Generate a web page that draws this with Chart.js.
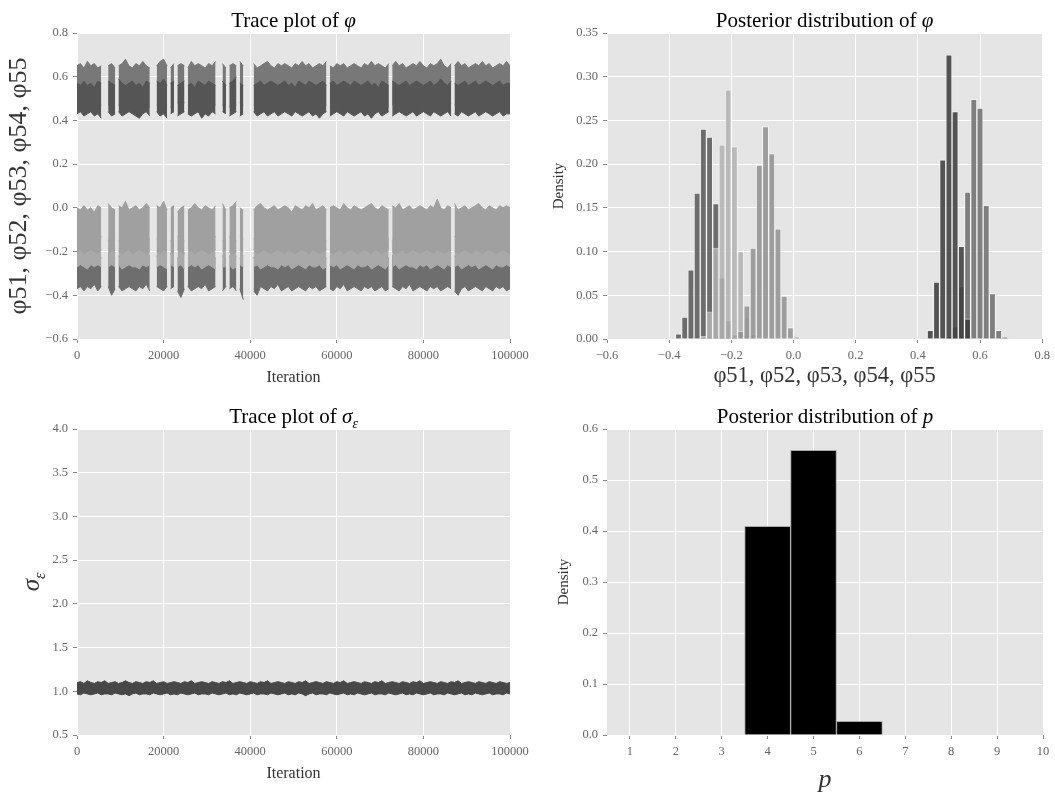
<!DOCTYPE html>
<html>
<head>
<meta charset="utf-8">
<script src="https://cdn.jsdelivr.net/npm/chart.js@4.4.0/dist/chart.umd.min.js"></script>
<style>
  body { margin: 0; background: #fff; }
  #page { position: relative; width: 1055px; height: 793px; }
  canvas { position: absolute; }
</style>
</head>
<body>
<div id="page">
  <canvas id="tl" width="545" height="390" style="left:0;top:0"></canvas>
  <canvas id="tr" width="528" height="390" style="left:527px;top:0"></canvas>
  <canvas id="bl" width="545" height="403" style="left:0;top:390px"></canvas>
  <canvas id="br" width="528" height="403" style="left:527px;top:390px"></canvas>
</div>
<script>
// trace envelopes: upper / lower edge of each chain, one value every `thin` iterations
const thin = 800;
// iterations where the chain left p = 5 (phi5x undefined there)
const gapIterations = [6100, 7000, 9200, 17300, 18200, 21200, 23100, 24900, 32200, 33000,
  34600, 37500, 38700, 39500, 40500, 58300, 72400, 87000];

const phiAHigh = [0.57,0.56,0.58,0.56,0.57,0.55,0.58,0.57,0.56,0.58,
  0.57,0.56,0.59,0.57,0.56,0.57,0.58,0.56,0.57,0.55,
  0.58,0.57,0.56,0.58,0.57,0.59,0.56,0.57,0.58,0.56,
  0.57,0.58,0.56,0.57,0.55,0.58,0.57,0.56,0.58,0.57,
  0.56,0.57,0.58,0.56,0.57,0.58,0.60,0.57,0.56,0.58,
  0.57,0.56,0.57,0.58,0.56,0.57,0.58,0.57,0.56,0.57,
  0.58,0.56,0.57,0.55,0.58,0.57,0.56,0.58,0.57,0.56,
  0.57,0.58,0.56,0.57,0.58,0.56,0.57,0.58,0.57,0.56,
  0.58,0.57,0.56,0.57,0.58,0.56,0.57,0.55,0.58,0.57,
  0.56,0.58,0.57,0.56,0.57,0.58,0.56,0.57,0.58,0.57,
  0.56,0.57,0.58,0.56,0.57,0.59,0.57,0.56,0.58,0.57,
  0.56,0.57,0.58,0.56,0.57,0.58,0.56,0.57,0.58,0.57,
  0.56,0.57,0.58,0.56,0.57,0.57];
const phiALow = [0.43,0.44,0.42,0.43,0.44,0.42,0.43,0.41,0.43,0.44,
  0.42,0.43,0.44,0.42,0.43,0.44,0.43,0.42,0.41,0.43,
  0.44,0.42,0.43,0.44,0.42,0.43,0.41,0.43,0.44,0.42,
  0.43,0.44,0.43,0.42,0.43,0.44,0.41,0.43,0.42,0.44,
  0.43,0.42,0.44,0.43,0.42,0.43,0.44,0.42,0.43,0.40,
  0.43,0.44,0.42,0.43,0.44,0.42,0.43,0.44,0.42,0.43,
  0.44,0.43,0.42,0.44,0.43,0.42,0.43,0.44,0.42,0.43,
  0.41,0.43,0.44,0.42,0.43,0.44,0.43,0.42,0.44,0.43,
  0.42,0.43,0.44,0.42,0.43,0.41,0.43,0.44,0.42,0.43,
  0.44,0.42,0.43,0.44,0.43,0.42,0.43,0.44,0.42,0.43,
  0.44,0.43,0.42,0.44,0.43,0.42,0.43,0.44,0.42,0.43,
  0.42,0.44,0.43,0.42,0.43,0.44,0.42,0.43,0.44,0.43,
  0.42,0.43,0.44,0.42,0.43,0.43];
const phiBHigh = [0.65,0.66,0.64,0.67,0.65,0.66,0.64,0.65,0.67,0.65,
  0.66,0.64,0.65,0.66,0.68,0.65,0.64,0.66,0.65,0.67,
  0.65,0.64,0.66,0.65,0.67,0.68,0.65,0.64,0.66,0.65,
  0.66,0.65,0.64,0.67,0.65,0.66,0.65,0.64,0.66,0.65,
  0.67,0.65,0.66,0.64,0.65,0.66,0.65,0.67,0.65,0.69,
  0.65,0.66,0.64,0.65,0.66,0.67,0.65,0.64,0.66,0.65,
  0.66,0.65,0.64,0.66,0.65,0.67,0.65,0.66,0.64,0.65,
  0.66,0.65,0.67,0.65,0.64,0.66,0.65,0.66,0.64,0.65,
  0.66,0.65,0.64,0.66,0.65,0.67,0.65,0.66,0.65,0.64,
  0.66,0.65,0.67,0.65,0.66,0.64,0.65,0.66,0.65,0.67,
  0.65,0.64,0.66,0.65,0.66,0.68,0.65,0.64,0.66,0.65,
  0.67,0.65,0.66,0.64,0.65,0.66,0.65,0.67,0.65,0.66,
  0.64,0.65,0.66,0.65,0.67,0.65];
const phiBLow = [0.47,0.48,0.47,0.46,0.48,0.47,0.48,0.47,0.46,0.47,
  0.48,0.47,0.47,0.48,0.46,0.47,0.48,0.47,0.47,0.48,
  0.47,0.46,0.48,0.47,0.47,0.48,0.47,0.46,0.47,0.48,
  0.47,0.48,0.47,0.46,0.47,0.48,0.47,0.47,0.48,0.46,
  0.47,0.48,0.47,0.47,0.46,0.48,0.47,0.48,0.47,0.47,
  0.46,0.47,0.48,0.47,0.47,0.48,0.46,0.47,0.48,0.47,
  0.47,0.48,0.46,0.47,0.47,0.48,0.47,0.46,0.48,0.47,
  0.47,0.48,0.47,0.46,0.47,0.48,0.47,0.47,0.48,0.46,
  0.47,0.48,0.47,0.47,0.46,0.48,0.47,0.48,0.47,0.47,
  0.46,0.47,0.48,0.47,0.47,0.48,0.46,0.47,0.48,0.47,
  0.47,0.48,0.46,0.47,0.47,0.48,0.47,0.46,0.48,0.47,
  0.47,0.48,0.47,0.46,0.47,0.48,0.47,0.47,0.48,0.46,
  0.47,0.48,0.47,0.47,0.46,0.48];
const phiCHigh = [-0.22,-0.23,-0.21,-0.22,-0.23,-0.22,-0.21,-0.23,-0.22,-0.21,
  -0.22,-0.23,-0.22,-0.21,-0.22,-0.23,-0.21,-0.22,-0.23,-0.22,
  -0.21,-0.22,-0.23,-0.22,-0.21,-0.23,-0.22,-0.21,-0.22,-0.23,
  -0.22,-0.21,-0.23,-0.22,-0.21,-0.22,-0.23,-0.22,-0.21,-0.22,
  -0.23,-0.21,-0.22,-0.23,-0.22,-0.21,-0.22,-0.23,-0.22,-0.21,
  -0.22,-0.23,-0.21,-0.22,-0.23,-0.22,-0.21,-0.22,-0.23,-0.22,
  -0.21,-0.23,-0.22,-0.21,-0.22,-0.23,-0.22,-0.21,-0.22,-0.23,
  -0.21,-0.22,-0.23,-0.22,-0.21,-0.22,-0.23,-0.21,-0.22,-0.23,
  -0.22,-0.21,-0.22,-0.23,-0.22,-0.21,-0.23,-0.22,-0.21,-0.22,
  -0.23,-0.22,-0.21,-0.22,-0.23,-0.21,-0.22,-0.23,-0.22,-0.21,
  -0.22,-0.23,-0.22,-0.21,-0.23,-0.22,-0.21,-0.22,-0.23,-0.22,
  -0.21,-0.22,-0.23,-0.22,-0.21,-0.23,-0.22,-0.21,-0.22,-0.23,
  -0.22,-0.21,-0.22,-0.23,-0.22,-0.22];
const phiCLow = [-0.37,-0.36,-0.38,-0.36,-0.37,-0.35,-0.38,-0.36,-0.37,-0.36,
  -0.40,-0.37,-0.36,-0.38,-0.37,-0.36,-0.37,-0.38,-0.36,-0.37,
  -0.35,-0.38,-0.37,-0.36,-0.37,-0.38,-0.36,-0.37,-0.36,-0.38,
  -0.41,-0.37,-0.36,-0.38,-0.37,-0.36,-0.37,-0.35,-0.38,-0.37,
  -0.36,-0.37,-0.38,-0.36,-0.37,-0.36,-0.38,-0.37,-0.42,-0.37,
  -0.36,-0.38,-0.40,-0.36,-0.37,-0.38,-0.36,-0.37,-0.35,-0.38,
  -0.37,-0.36,-0.38,-0.37,-0.36,-0.37,-0.38,-0.36,-0.37,-0.36,
  -0.38,-0.37,-0.36,-0.37,-0.38,-0.36,-0.37,-0.35,-0.38,-0.37,
  -0.36,-0.37,-0.38,-0.36,-0.37,-0.36,-0.38,-0.37,-0.36,-0.38,
  -0.37,-0.36,-0.37,-0.38,-0.36,-0.37,-0.35,-0.38,-0.37,-0.36,
  -0.37,-0.38,-0.36,-0.37,-0.36,-0.38,-0.37,-0.36,-0.37,-0.38,
  -0.40,-0.37,-0.36,-0.38,-0.37,-0.36,-0.37,-0.38,-0.36,-0.37,
  -0.38,-0.36,-0.37,-0.36,-0.38,-0.37];
const phiDHigh = [-0.14,-0.13,-0.15,-0.14,-0.13,-0.14,-0.15,-0.13,-0.14,-0.15,
  -0.13,-0.14,-0.15,-0.14,-0.13,-0.14,-0.15,-0.13,-0.14,-0.13,
  -0.15,-0.14,-0.13,-0.14,-0.15,-0.13,-0.14,-0.15,-0.14,-0.13,
  -0.14,-0.15,-0.13,-0.14,-0.13,-0.15,-0.14,-0.13,-0.14,-0.15,
  -0.13,-0.14,-0.15,-0.14,-0.13,-0.14,-0.15,-0.13,-0.14,-0.13,
  -0.15,-0.14,-0.13,-0.14,-0.15,-0.13,-0.14,-0.15,-0.14,-0.13,
  -0.14,-0.15,-0.13,-0.14,-0.13,-0.15,-0.14,-0.13,-0.14,-0.15,
  -0.13,-0.14,-0.15,-0.14,-0.13,-0.14,-0.15,-0.13,-0.14,-0.13,
  -0.15,-0.14,-0.13,-0.14,-0.15,-0.13,-0.14,-0.15,-0.14,-0.13,
  -0.14,-0.15,-0.13,-0.14,-0.13,-0.15,-0.14,-0.13,-0.14,-0.15,
  -0.13,-0.14,-0.15,-0.14,-0.13,-0.14,-0.15,-0.13,-0.14,-0.13,
  -0.15,-0.14,-0.13,-0.14,-0.15,-0.13,-0.14,-0.15,-0.14,-0.13,
  -0.14,-0.15,-0.13,-0.14,-0.13,-0.14];
const phiDLow = [-0.27,-0.26,-0.27,-0.28,-0.26,-0.27,-0.26,-0.27,-0.28,-0.27,
  -0.26,-0.27,-0.26,-0.28,-0.27,-0.26,-0.27,-0.27,-0.28,-0.26,
  -0.27,-0.26,-0.28,-0.27,-0.26,-0.27,-0.28,-0.26,-0.27,-0.27,
  -0.26,-0.28,-0.27,-0.26,-0.27,-0.26,-0.28,-0.27,-0.26,-0.27,
  -0.28,-0.26,-0.27,-0.27,-0.26,-0.28,-0.27,-0.26,-0.27,-0.28,
  -0.26,-0.27,-0.26,-0.28,-0.27,-0.26,-0.27,-0.27,-0.28,-0.26,
  -0.27,-0.26,-0.28,-0.27,-0.26,-0.27,-0.28,-0.26,-0.27,-0.27,
  -0.26,-0.28,-0.27,-0.26,-0.27,-0.26,-0.28,-0.27,-0.26,-0.27,
  -0.28,-0.26,-0.27,-0.27,-0.26,-0.28,-0.27,-0.26,-0.27,-0.28,
  -0.26,-0.27,-0.26,-0.28,-0.27,-0.26,-0.27,-0.27,-0.28,-0.26,
  -0.27,-0.26,-0.28,-0.27,-0.26,-0.27,-0.28,-0.26,-0.27,-0.27,
  -0.26,-0.28,-0.27,-0.26,-0.27,-0.26,-0.28,-0.27,-0.26,-0.27,
  -0.28,-0.26,-0.27,-0.27,-0.26,-0.27];
const phiEHigh = [0.00,-0.01,0.01,-0.01,0.00,-0.02,0.01,0.00,-0.01,0.02,
  0.00,-0.01,0.01,0.00,0.03,-0.01,0.00,0.01,-0.01,0.00,
  0.02,0.00,-0.01,0.01,0.00,0.03,-0.01,0.00,0.01,-0.02,
  0.00,0.01,-0.01,0.00,0.02,0.00,-0.01,0.01,0.00,-0.01,
  0.01,0.00,0.02,-0.01,0.00,0.01,0.03,0.00,-0.01,0.01,
  0.00,-0.01,0.01,0.02,0.00,-0.01,0.00,0.01,-0.01,0.00,
  0.01,0.00,-0.02,0.01,0.00,-0.01,0.01,0.00,0.02,-0.01,
  0.00,0.01,-0.01,0.00,0.01,0.00,-0.01,0.02,0.00,-0.01,
  0.01,0.00,-0.01,0.00,0.01,0.02,0.00,-0.01,0.01,0.00,
  -0.01,0.01,0.00,0.02,-0.01,0.00,0.01,-0.01,0.00,0.01,
  0.00,-0.01,0.01,0.00,0.04,0.00,-0.01,0.01,0.00,0.02,
  -0.01,0.00,0.01,-0.01,0.00,0.01,0.02,0.00,-0.01,0.01,
  0.00,-0.01,0.01,0.00,0.01,0.00];
const phiELow = [-0.20,-0.19,-0.21,-0.20,-0.19,-0.20,-0.21,-0.19,-0.20,-0.21,
  -0.20,-0.19,-0.20,-0.21,-0.20,-0.19,-0.21,-0.20,-0.19,-0.20,
  -0.21,-0.20,-0.19,-0.20,-0.21,-0.19,-0.20,-0.21,-0.20,-0.19,
  -0.20,-0.21,-0.19,-0.20,-0.21,-0.20,-0.19,-0.20,-0.21,-0.20,
  -0.19,-0.21,-0.20,-0.19,-0.20,-0.21,-0.20,-0.19,-0.20,-0.21,
  -0.20,-0.19,-0.21,-0.20,-0.19,-0.20,-0.21,-0.20,-0.19,-0.20,
  -0.21,-0.19,-0.20,-0.21,-0.20,-0.19,-0.20,-0.21,-0.19,-0.20,
  -0.21,-0.20,-0.19,-0.20,-0.21,-0.20,-0.19,-0.21,-0.20,-0.19,
  -0.20,-0.21,-0.20,-0.19,-0.20,-0.21,-0.19,-0.20,-0.21,-0.20,
  -0.19,-0.20,-0.21,-0.20,-0.19,-0.21,-0.20,-0.19,-0.20,-0.21,
  -0.20,-0.19,-0.20,-0.21,-0.19,-0.20,-0.21,-0.20,-0.19,-0.20,
  -0.21,-0.20,-0.19,-0.20,-0.21,-0.19,-0.20,-0.21,-0.20,-0.19,
  -0.20,-0.21,-0.20,-0.19,-0.20,-0.21];
const sigmaHigh = [1.10,1.11,1.09,1.12,1.10,1.09,1.11,1.10,1.12,1.09,
  1.10,1.11,1.09,1.10,1.12,1.10,1.09,1.11,1.10,1.09,
  1.11,1.10,1.12,1.09,1.10,1.11,1.09,1.10,1.11,1.10,
  1.09,1.11,1.10,1.12,1.09,1.10,1.11,1.10,1.09,1.11,
  1.10,1.09,1.11,1.10,1.12,1.09,1.10,1.11,1.10,1.09,
  1.11,1.10,1.09,1.11,1.10,1.12,1.09,1.10,1.11,1.10,
  1.09,1.11,1.10,1.09,1.11,1.10,1.12,1.09,1.10,1.11,
  1.10,1.09,1.11,1.10,1.09,1.11,1.10,1.12,1.09,1.10,
  1.11,1.10,1.09,1.11,1.10,1.09,1.11,1.10,1.12,1.09,
  1.10,1.11,1.10,1.09,1.11,1.10,1.09,1.11,1.10,1.12,
  1.09,1.10,1.11,1.10,1.09,1.11,1.10,1.09,1.11,1.10,
  1.12,1.09,1.10,1.11,1.10,1.09,1.11,1.10,1.09,1.11,
  1.10,1.09,1.11,1.10,1.09,1.10];
const sigmaLow = [0.97,0.96,0.98,0.97,0.96,0.97,0.98,0.96,0.97,0.97,
  0.96,0.98,0.97,0.96,0.97,0.95,0.97,0.98,0.96,0.97,
  0.97,0.96,0.98,0.97,0.96,0.97,0.98,0.96,0.97,0.96,
  0.98,0.97,0.96,0.97,0.98,0.96,0.97,0.97,0.96,0.98,
  0.97,0.96,0.97,0.98,0.96,0.97,0.96,0.98,0.97,0.96,
  0.97,0.98,0.96,0.97,0.97,0.96,0.98,0.97,0.96,0.97,
  0.98,0.96,0.97,0.96,0.98,0.97,0.95,0.97,0.98,0.96,
  0.97,0.97,0.96,0.98,0.97,0.96,0.97,0.98,0.96,0.97,
  0.96,0.98,0.97,0.96,0.97,0.98,0.96,0.97,0.97,0.96,
  0.98,0.97,0.96,0.97,0.98,0.96,0.97,0.96,0.98,0.97,
  0.96,0.97,0.98,0.96,0.97,0.97,0.96,0.98,0.97,0.96,
  0.97,0.98,0.96,0.97,0.96,0.98,0.97,0.96,0.97,0.98,
  0.96,0.97,0.97,0.96,0.98,0.97];

// histogram bin centres and heights
const binsLow = [-0.37,-0.35,-0.33,-0.31,-0.29,-0.27,-0.25,-0.23,-0.21,-0.19,
  -0.17,-0.15,-0.13,-0.11,-0.09,-0.07,-0.05,-0.03,-0.01,0.01];
const binsHigh = [0.44,0.46,0.48,0.50,0.52,0.54,0.56,0.58,0.60,0.62,0.64,0.66,0.68];
const histC = [0.006,0.025,0.079,0.167,0.240,0.231,0.155,0.070,0.021,0.005,0,0,0,0,0,0,0,0,0,0];
const histD = [0,0,0,0,0.003,0.031,0.104,0.222,0.285,0.220,0.100,0.025,0.005,0,0,0,0,0,0,0];
const histE = [0,0,0,0,0,0,0,0,0,0.001,0.009,0.038,0.104,0.199,0.243,0.212,0.126,0.049,0.013,0.002];
const histA = [0.010,0.065,0.205,0.325,0.260,0.106,0.023,0,0,0,0,0,0];
const histB = [0,0,0,0.003,0.014,0.060,0.168,0.274,0.264,0.153,0.052,0.010,0.002];

const pValues = [1,2,3,4,5,6,7,8,9,10];
const pDensity = [0,0,0,0.409,0.558,0.027,0,0,0,0];

Chart.defaults.font.family = "'Liberation Serif', serif";
Chart.defaults.animation = false;

function tracePoints(values, gaps) {
  const pts = values.map((v, i) => ({x: i * thin, y: v}));
  if (gaps) gapIterations.forEach(g => pts.push({x: g, y: null}));
  pts.sort((a, b) => a.x - b.x);
  return pts;
}
// filled band between the upper and lower edge of one chain
function bandSets(high, low, color, gaps) {
  const line = {borderColor: color, backgroundColor: color, borderWidth: 1,
    pointRadius: 0, spanGaps: false, tension: 0};
  return [
    Object.assign({data: tracePoints(high, gaps), fill: '+1'}, line),
    Object.assign({data: tracePoints(low, gaps), fill: false}, line)
  ];
}
function histSet(bins, heights, color) {
  return {
    data: bins.map((x, i) => ({x: x, y: heights[i]})),
    backgroundColor: color, borderColor: 'rgba(255,255,255,0.55)', borderWidth: 1,
    grouped: false, barPercentage: 1, categoryPercentage: 1
  };
}

const dec = n => v => (Math.abs(v) < 1e-9 ? 0 : v).toFixed(n).replace('-', '\u2212');
const intFmt = v => String(Math.round(v));

function axis(min, max, step, fmt, size, extra) {
  return Object.assign({
    type: 'linear', min: min, max: max, offset: false,
    border: {display: false},
    grid: {color: '#ffffff', lineWidth: 1, tickColor: '#888', tickLength: 4, offset: false},
    ticks: {stepSize: step, color: '#666', font: {size: 12.5}, padding: 5,
      autoSkip: false, maxRotation: 0, callback: fmt},
    afterFit: s => { if (s.isHorizontal()) s.height = size; else s.width = size; }
  }, extra);
}

const panelBg = {
  id: 'panelBg',
  beforeDraw(chart) {
    const a = chart.chartArea, ctx = chart.ctx;
    ctx.save();
    ctx.fillStyle = '#e5e5e5';
    ctx.fillRect(a.left, a.top, a.right - a.left, a.bottom - a.top);
    ctx.restore();
  }
};

// text with italic / subscript pieces
function drawRich(ctx, parts, size, cx, cy, rot, color) {
  const fontOf = p => (p.it ? 'italic ' : '') + (p.sub ? size * 0.65 : size) + "px 'Liberation Serif', serif";
  ctx.save();
  ctx.translate(cx, cy);
  ctx.rotate(rot);
  ctx.fillStyle = color;
  ctx.textBaseline = 'alphabetic';
  let total = 0;
  parts.forEach(p => { ctx.font = fontOf(p); total += ctx.measureText(p.t).width; });
  let x = -total / 2;
  parts.forEach(p => {
    ctx.font = fontOf(p);
    ctx.fillText(p.t, x, size * 0.33 + (p.sub ? size * 0.22 : 0));
    x += ctx.measureText(p.t).width;
  });
  ctx.restore();
}
function rich(title, yLabel, yLabelX) {
  return {
    id: 'rich',
    afterDraw(chart) {
      const a = chart.chartArea;
      drawRich(chart.ctx, title, 21, (a.left + a.right) / 2, a.top - 13, 0, '#000');
      if (yLabel) drawRich(chart.ctx, yLabel, 25, yLabelX, (a.top + a.bottom) / 2, -Math.PI / 2, '#333');
    }
  };
}

function baseOptions(padding, scales) {
  return {
    responsive: false, events: [],
    layout: {padding: padding},
    plugins: {legend: {display: false}, tooltip: {enabled: false}},
    scales: scales
  };
}

const phiLabel = 'φ51, φ52, φ53, φ54, φ55';

// trace plot of phi (first dataset ends up on top)
new Chart(document.getElementById('tl'), {
  type: 'line',
  data: {datasets: [].concat(
    bandSets(phiAHigh, phiALow, '#555555', true),
    bandSets(phiBHigh, phiBLow, '#787878', true),
    bandSets(phiEHigh, phiELow, '#a0a0a0', true),
    bandSets(phiDHigh, phiDLow, '#a9a9a9', true),
    bandSets(phiCHigh, phiCLow, '#6e6e6e', true)
  )},
  options: baseOptions({left: 0, right: 35, top: 33, bottom: 0}, {
    x: axis(0, 100000, 20000, intFmt, 51,
      {title: {display: true, text: 'Iteration', color: '#333', font: {size: 16}, padding: {top: 0, bottom: 3}}}),
    y: axis(-0.6, 0.8, 0.2, dec(1), 77,
      {title: {display: true, text: phiLabel, color: '#333', font: {size: 26, lineHeight: 1.1}, padding: {top: 5, bottom: 0}}})
  }),
  plugins: [panelBg, rich([{t: 'Trace plot of '}, {t: 'φ', it: true}])]
});

// posterior of phi
new Chart(document.getElementById('tr'), {
  type: 'bar',
  data: {datasets: [
    histSet(binsHigh, histA, 'rgba(58,58,58,0.85)'),
    histSet(binsHigh, histB, 'rgba(108,108,108,0.85)'),
    histSet(binsLow, histE, 'rgba(144,144,144,0.85)'),
    histSet(binsLow, histD, 'rgba(178,178,178,0.85)'),
    histSet(binsLow, histC, 'rgba(87,87,87,0.85)')
  ]},
  options: baseOptions({left: 0, right: 12, top: 33, bottom: 0}, {
    x: axis(-0.6, 0.8, 0.2, dec(1), 51,
      {title: {display: true, text: phiLabel, color: '#333', font: {size: 22.5}, padding: {top: 0, bottom: 0}}}),
    y: axis(0, 0.35, 0.05, dec(2), 80,
      {title: {display: true, text: 'Density', color: '#333', font: {size: 15}, padding: {top: 23, bottom: 0}}})
  }),
  plugins: [panelBg, rich([{t: 'Posterior distribution of '}, {t: 'φ', it: true}])]
});

// trace plot of sigma
new Chart(document.getElementById('bl'), {
  type: 'line',
  data: {datasets: bandSets(sigmaHigh, sigmaLow, '#474747', false)},
  options: baseOptions({left: 0, right: 35, top: 39, bottom: 0}, {
    x: axis(0, 100000, 20000, intFmt, 58,
      {title: {display: true, text: 'Iteration', color: '#333', font: {size: 16}, padding: {top: 0, bottom: 10}}}),
    y: axis(0.5, 4.0, 0.5, dec(1), 77)
  }),
  plugins: [panelBg, rich([{t: 'Trace plot of '}, {t: 'σ', it: true}, {t: 'ε', it: true, sub: true}],
    [{t: 'σ', it: true}, {t: 'ε', it: true, sub: true}], 31)]
});

// posterior of p
new Chart(document.getElementById('br'), {
  type: 'bar',
  data: {datasets: [{
    data: pValues.map((x, i) => ({x: x, y: pDensity[i]})),
    backgroundColor: '#000000', borderColor: '#a8a8a8', borderWidth: 1,
    barPercentage: 1, categoryPercentage: 1
  }]},
  options: baseOptions({left: 0, right: 12, top: 39, bottom: 0}, {
    x: axis(0.5, 10, 1, intFmt, 58, {
      afterBuildTicks: s => { s.ticks = pValues.map(v => ({value: v})); },
      title: {display: true, text: 'p', color: '#333', font: {size: 26, style: 'italic', lineHeight: 1}, padding: {top: 0, bottom: 0}}
    }),
    y: axis(0, 0.6, 0.1, dec(1), 80,
      {title: {display: true, text: 'Density', color: '#333', font: {size: 15}, padding: {top: 28, bottom: 0}}})
  }),
  plugins: [panelBg, rich([{t: 'Posterior distribution of '}, {t: 'p', it: true}])]
});
</script>
</body>
</html>
